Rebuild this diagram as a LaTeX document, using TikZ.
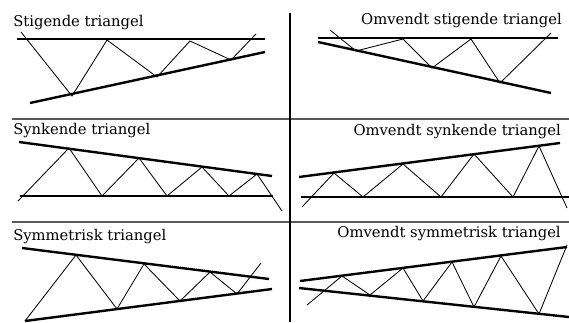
\documentclass[tikz,border=0pt]{standalone}
\usepackage{fontspec}
\setmainfont{DejaVu Serif}
\begin{document}
\begin{tikzpicture}[x=0.025cm, y=-0.025cm,
    trend/.style={line width=1.7pt},
    zigzag/.style={line width=0.6pt},
    divider/.style={line width=1pt, black!65},
    title/.style={inner sep=0pt, font=\fontsize{10.5}{12}\selectfont}]
    \useasboundingbox (0,0) rectangle (569,322);

    % Dividers
    \draw[divider] (12,119) -- (569,119);
    \draw[divider] (12,222) -- (569,222);
    \draw[line width=1.4pt] (290,13) -- (290,322);

    % Stigende triangel
    \node[title, anchor=base west] (stig) at (13,26) {Stigende triangel};
    \draw[trend] (17,39) -- (265,39);
    \draw[trend] (30,103) -- (265,52);
    \draw[zigzag] (21,32) -- (72,96) -- (107,40) -- (157,77) -- (190,41) -- (231,60) -- (256,34);

    % Omvendt stigende triangel
    \node[title, anchor=base east] (omstig) at (562,24) {Omvendt stigende triangel};
    \draw[trend] (318,38) -- (558,38);
    \draw[trend] (318,42) -- (551,93);
    \draw[zigzag] (330,30) -- (356,51) -- (403,39) -- (432,68) -- (471,39) -- (500,83) -- (551,33);

    % Synkende triangel
    \node[title, anchor=base west] (synk) at (13,134) {Synkende triangel};
    \draw[trend] (19,142) -- (272,176);
    \draw[trend] (20,196) -- (273,196);
    \draw[zigzag] (18,201) -- (69,148) -- (102,196) -- (139,158) -- (167,196) -- (202,167) -- (229,196) -- (257,174) -- (282,211);

    % Omvendt synkende triangel
    \node[title, anchor=base east] (omsynk) at (561,135) {Omvendt synkende triangel};
    \draw[trend] (299,177) -- (560,143);
    \draw[trend] (301,197) -- (569,197);
    \draw[zigzag] (302,207) -- (334,173) -- (363,197) -- (403,164) -- (441,197) -- (474,154) -- (513,197) -- (539,146) -- (567,208);

    % Symmetrisk triangel
    \node[title, anchor=base west] (sym) at (13,240) {Symmetrisk triangel};
    \draw[trend] (22,248) -- (269,279);
    \draw[trend] (25,321) -- (272,289);
    \draw[zigzag] (25,321) -- (76,255) -- (117,309) -- (144,264) -- (180,301) -- (210,272) -- (237,294) -- (261,263);

    % Omvendt symmetrisk triangel
    \node[title, anchor=base east] (omsym) at (561,237) {Omvendt symmetrisk triangel};
    \draw[trend] (300,281) -- (567,247);
    \draw[trend] (299,288) -- (569,317);
    \draw[zigzag] (307,305) -- (342,276) -- (370,295) -- (403,268) -- (423,301) -- (452,262) -- (474,307) -- (501,256) -- (539,314) -- (567,245);
\end{tikzpicture}
\end{document}
